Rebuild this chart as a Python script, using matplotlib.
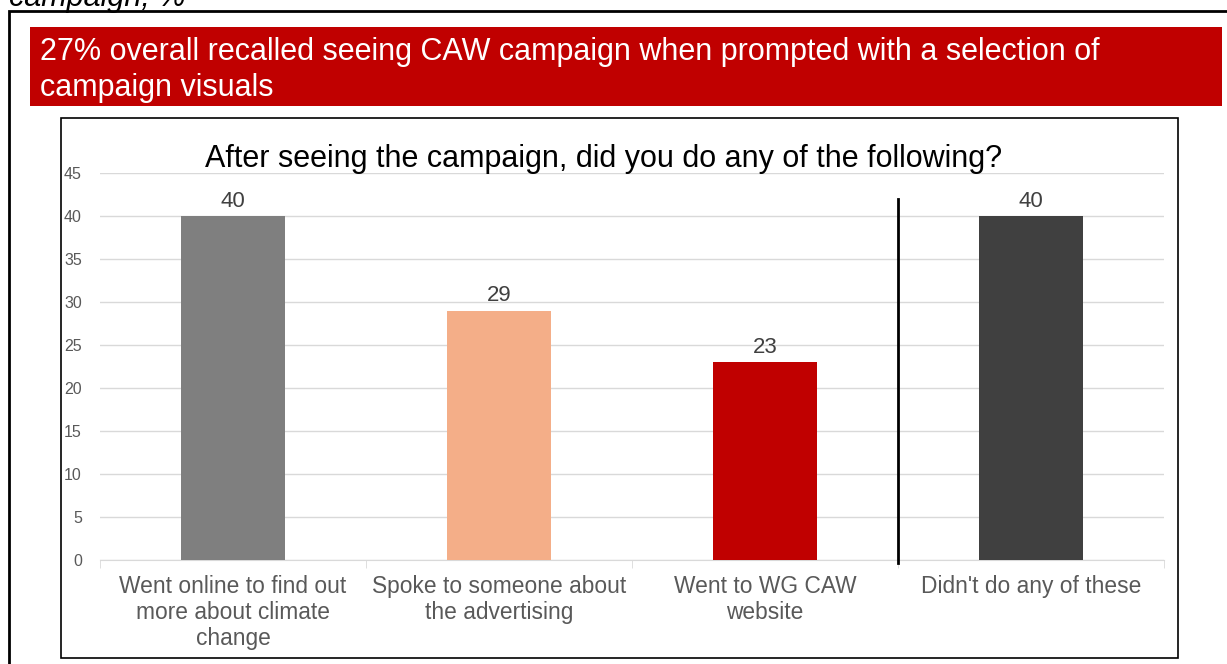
import numpy as np
import matplotlib.pyplot as plt
from matplotlib.patches import Rectangle

plt.rcParams['font.family'] = ['Liberation Sans', 'DejaVu Sans']

# Data
categories = ["Went online to find out\nmore about climate\nchange",
              "Spoke to someone about\nthe advertising",
              "Went to WG CAW\nwebsite",
              "Didn't do any of these"]
values = [40, 29, 23, 40]
colors = ['#7F7F7F', '#F4AE88', '#C00000', '#404040']
yticks = [0, 5, 10, 15, 20, 25, 30, 35, 40, 45]

W, H = 1227, 664
fig = plt.figure(figsize=(W / 100, H / 100), dpi=100)

def fx(px):
    return px / W

def fy(py):
    return 1 - py / H

# Outer frame (runs off the right and bottom edges)
fig.add_artist(Rectangle((fx(9), fy(700)), fx(1240) - fx(9), fy(11) - fy(700),
                         transform=fig.transFigure, fill=False,
                         edgecolor='black', lw=2))

# Heading above the frame, partly off the top edge
fig.text(fx(9), fy(6), "campaign, %", fontsize=22, style='italic',
         ha='left', va='baseline', color='black')

# Red banner
fig.add_artist(Rectangle((fx(30), fy(106)), fx(1222) - fx(30), fy(27) - fy(106),
                         transform=fig.transFigure, facecolor='#C00000',
                         edgecolor='none'))
fig.text(fx(40), fy(70), "27% overall recalled seeing CAW campaign when prompted with a selection of\ncampaign visuals",
         fontsize=22, color='white', ha='left', va='center', linespacing=1.22)

# Chart box
fig.add_artist(Rectangle((fx(61), fy(658)), fx(1178) - fx(61), fy(118) - fy(658),
                         transform=fig.transFigure, fill=False,
                         edgecolor='black', lw=1.2))

ax = fig.add_axes([fx(100), fy(560), fx(1164) - fx(100), fy(173) - fy(560)])
x = np.arange(len(categories))
ax.bar(x, values, width=0.39, color=colors, zorder=3)
for xi, v in zip(x, values):
    ax.text(xi, v + 0.5, str(v), ha='center', va='bottom', fontsize=16, color='#404040')

ax.set_xlim(-0.5, len(categories) - 0.5)
ax.set_ylim(0, 45)
ax.set_yticks(yticks)
ax.yaxis.grid(True, color='#D9D9D9', lw=1, zorder=0)
ax.tick_params(axis='y', length=0, labelsize=11.5, labelcolor='#595959', pad=13)
ax.set_xticks(x)
ax.set_xticklabels(categories, fontsize=16.4, color='#595959', linespacing=1.16)
ax.tick_params(axis='x', length=0, pad=11)
ax.set_xticks(np.arange(len(categories) + 1) - 0.5, minor=True)
ax.tick_params(axis='x', which='minor', length=6, color='#D9D9D9')
for s in ['top', 'right', 'left']:
    ax.spines[s].set_visible(False)
ax.spines['bottom'].set_color('#D9D9D9')
ax.set_facecolor('none')

# Separator before the last category
ax.plot([2.5, 2.5], [-0.3, 42], color='black', lw=2, clip_on=False, zorder=4)

fig.text(fx(604), fy(159), "After seeing the campaign, did you do any of the following?",
         fontsize=22, ha='center', va='center', color='black')

fig.savefig('out.png', dpi=100)
